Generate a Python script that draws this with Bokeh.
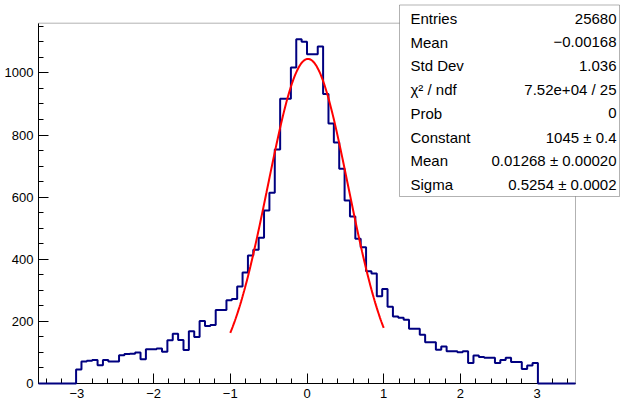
import numpy as np
from bokeh.plotting import figure
from bokeh.models import Range1d, FixedTicker, BoxAnnotation, Label, LinearAxis
from bokeh.embed import file_html
from bokeh.resources import INLINE

# ---- histogram: 100 bins over [-3.5, 3.5] ----
x_low, x_high, n_bins = -3.5, 3.5, 100
bins_left = [0, 0, 0, 0, 0, 0, 0,
             45, 71, 73, 76, 59, 76, 71, 71, 91, 95, 96, 100, 78, 110,
             110, 113, 102, 139, 160, 140, 108, 168, 150, 201, 185, 188,
             237, 237, 268, 272, 312, 357, 412]
bins_peak = [431, 469, 557, 614, 753, 917, 917, 1017, 1108, 1100,
             1060, 1060, 1085, 932, 837, 776, 691, 589, 538, 466]
bins_right = [439, 361, 354, 281, 304, 247, 216, 212, 205, 176,
              176, 157, 133, 133, 109, 119, 104, 104, 101, 104,
              66, 90, 85, 83, 83, 66, 76, 83, 69, 69,
              47, 58, 66, 0, 0, 0, 0, 0, 0, 0]

# ---- gaussian fit parameters (range -1 .. 1) ----
fit_constant = 1045.0
fit_mean = 0.01268
fit_sigma = 0.5254
fit_low, fit_high = -1.0, 1.0

# ---- statistics box ----
stat_names = ["Entries", "Mean", "Std Dev", "\u03c7\u00b2 / ndf", "Prob",
              "Constant", "Mean", "Sigma"]
stat_values = ["25680", "\u22120.00168", "1.036", "7.52e+04 / 25", "0",
               "1045 \u00b1 0.4", "0.01268 \u00b1 0.00020", "0.5254 \u00b1 0.0002"]

# ---- axes ----
x_ticks = [-3, -2, -1, 0, 1, 2, 3]
x_tick_labels = ["\u22123", "\u22122", "\u22121", "0", "1", "2", "3"]
y_ticks = [0, 200, 400, 600, 800, 1000]
y_max = 1160

counts = bins_left + bins_peak + bins_right
edges = np.linspace(x_low, x_high, n_bins + 1)
step_y = counts + [counts[-1]]

FONT = "Liberation Sans"

# layout (pixels): the whole canvas is the Bokeh frame so the stats box can
# extend past the drawn axis frame; the axes are placed at fixed locations.
W, H = 626, 405
fl, fr, ft, fb = 38.0, 575.0, 22.7, 383.0
ux = (fr - fl) / (x_high - x_low)
uy = (fb - ft) / y_max
def px_x(sx):
    return x_low + (sx - fl) / ux
def px_y(sy):
    return (fb - sy) / uy

p = figure(width=W, height=H, x_range=Range1d(px_x(0), px_x(W)),
           y_range=Range1d(px_y(H), px_y(0)), output_backend="svg",
           toolbar_location=None, min_border=0,
           x_axis_location=None, y_axis_location=None)
p.grid.visible = False
p.outline_line_color = None
p.background_fill_color = "white"
p.border_fill_color = "white"

# axis frame
p.add_layout(BoxAnnotation(left=x_low, right=x_high, bottom=0, top=y_max,
                           fill_alpha=0, line_color="black", line_width=1,
                           level="underlay"))

x_minor = [round(v, 1) for v in np.arange(-3.4, 3.41, 0.2)]
y_minor = list(range(0, y_max, 50))
xaxis = LinearAxis(fixed_location=0, bounds=(x_low, x_high),
                   ticker=FixedTicker(ticks=x_ticks, minor_ticks=x_minor),
                   major_label_overrides={float(t): l for t, l in zip(x_ticks, x_tick_labels)})
yaxis = LinearAxis(fixed_location=x_low, bounds=(0, y_max),
                   ticker=FixedTicker(ticks=y_ticks, minor_ticks=y_minor))
for ax in (xaxis, yaxis):
    ax.level = "underlay"
    ax.major_tick_in = 10
    ax.major_tick_out = 0
    ax.minor_tick_in = 5
    ax.minor_tick_out = 0
    ax.major_tick_line_color = "black"
    ax.minor_tick_line_color = "black"
    ax.axis_line_color = "black"
    ax.major_label_text_font = FONT
    ax.major_label_text_font_size = "13px"
    ax.major_label_text_color = "black"
    ax.major_label_standoff = 5
p.add_layout(xaxis, "below")
p.add_layout(yaxis, "left")

p.step(edges, step_y, mode="after", line_color="#000080", line_width=2)

xf = np.linspace(fit_low, fit_high, 200)
yf = fit_constant * np.exp(-0.5 * ((xf - fit_mean) / fit_sigma) ** 2)
p.line(xf, yf, line_color="#ff0000", line_width=2)

# stats box
p.add_layout(BoxAnnotation(left=px_x(399), right=px_x(619), top=px_y(4.5),
                           bottom=px_y(196), fill_color="white", fill_alpha=1,
                           line_color="black", line_width=1, level="annotation"))
row_top, row_step = 18.0, 23.7
for i, (name, val) in enumerate(zip(stat_names, stat_values)):
    yy = px_y(row_top + i * row_step)
    p.add_layout(Label(x=px_x(410), y=yy, text=name, text_font=FONT,
                       text_font_size="15px", text_baseline="middle",
                       text_align="left", text_color="black", level="annotation"))
    p.add_layout(Label(x=px_x(616), y=yy, text=val, text_font=FONT,
                       text_font_size="15px", text_baseline="middle",
                       text_align="right", text_color="black", level="annotation"))

open("out.html", "w").write(file_html(p, INLINE))
